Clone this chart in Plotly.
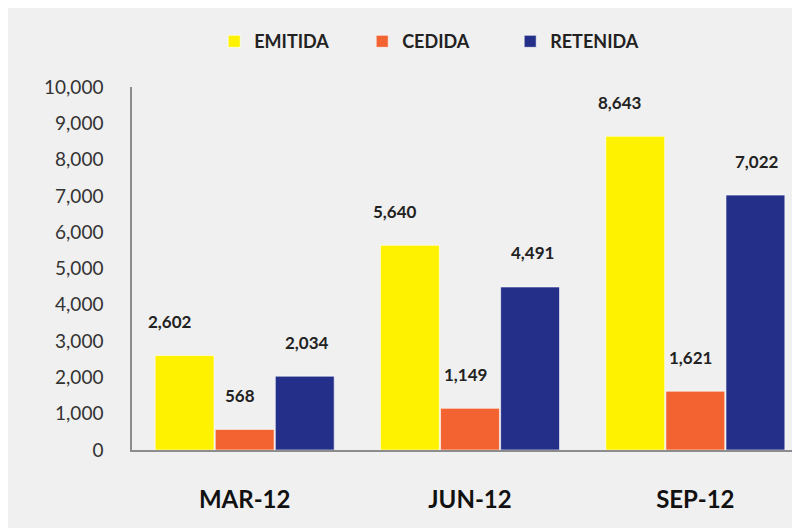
import plotly.graph_objects as go

periodos = ['MAR-12', 'JUN-12', 'SEP-12']
emitida = [2602, 5640, 8643]
cedida = [568, 1149, 1621]
retenida = [2034, 4491, 7022]

series = [
    ('EMITIDA', emitida, '#fff200'),
    ('CEDIDA', cedida, '#f26331'),
    ('RETENIDA', retenida, '#232f88'),
]
desloc = [-70, 0, 67]

fig = go.Figure()
for nome, valores, cor in series:
    fig.add_trace(go.Bar(x=periodos, y=valores, name=nome,
                         marker=dict(color=cor, line=dict(color='rgba(255,255,255,0.6)', width=1))))

# rotulos de dados um pouco acima das barras
for (nome, valores, cor), dx in zip(series, desloc):
    for p, v in zip(periodos, valores):
        fig.add_annotation(x=p, y=v, text=f'{v:,}', showarrow=False,
                           xshift=dx - 5, yshift=34, yanchor='middle',
                           font=dict(family='Lato', size=17, color='#222222', weight='bold'))

fig.update_layout(
    width=800, height=528,
    paper_bgcolor='#f0f0f0', plot_bgcolor='#f0f0f0',
    margin=dict(l=124, r=0, t=79, b=86),
    barmode='group', bargap=0.2, bargroupgap=0.02,
    font=dict(family='Lato', color='#222222'),
    showlegend=True,
    legend=dict(orientation='h', x=0.45, xanchor='center', y=1.125, yanchor='middle',
                font=dict(family='Lato', size=18, color='#222222', weight='bold'),
                itemwidth=30, entrywidth=103, entrywidthmode='pixels',
                bgcolor='rgba(0,0,0,0)'),
    yaxis=dict(range=[0, 10000], dtick=1000, tickformat=',', showgrid=False, zeroline=False,
               showline=True, linecolor='#8c8c8c', linewidth=1.5,
               ticklabelstandoff=23,
               tickfont=dict(family='Lato', size=19, color='#333333')),
    xaxis=dict(showline=True, linecolor='#8c8c8c', linewidth=1.5, showgrid=False,
               ticklabelstandoff=27,
               tickfont=dict(family='Lato', size=24, color='#111111', weight='bold')),
)

fig.write_html('out.html')
